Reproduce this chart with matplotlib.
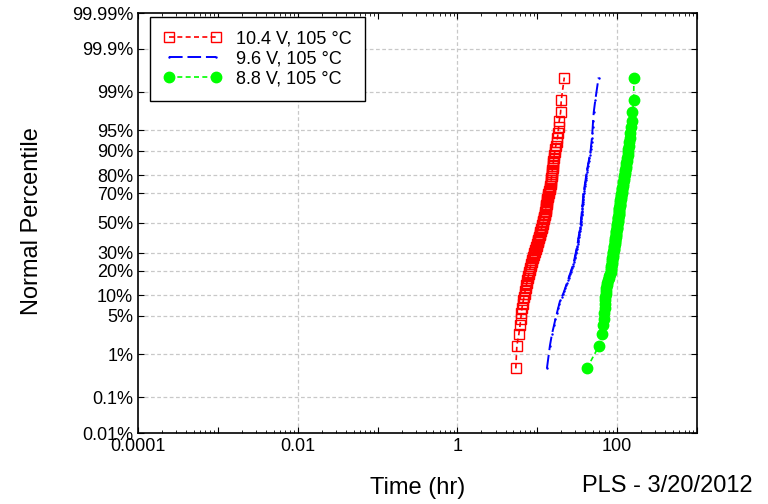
import math
import numpy as np
import matplotlib
matplotlib.use('Agg')
import matplotlib.pyplot as plt
from matplotlib.ticker import NullFormatter, LogLocator

plt.rcParams['font.family'] = ['Liberation Sans', 'DejaVu Sans']
plt.rcParams['axes.grid'] = False

# failure times (hr), sorted
t_104 = [5.38, 5.55, 5.89, 6.08, 6.21, 6.32, 6.41, 6.55, 6.68, 6.81,
         6.93, 7.05, 7.17, 7.29, 7.41, 7.52, 7.62, 7.73, 7.83, 7.93,
         8.04, 8.13, 8.26, 8.39, 8.51, 8.65, 8.77, 8.91, 9.04, 9.17,
         9.29, 9.42, 9.55, 9.68, 9.80, 9.93, 10.07, 10.19, 10.33, 10.45,
         10.59, 10.72, 10.84, 10.97, 11.09, 11.19, 11.32, 11.43, 11.56, 11.67,
         11.80, 11.91, 12.02, 12.16, 12.27, 12.39, 12.53, 12.62, 12.71, 12.76,
         12.85, 12.91, 13.00, 13.06, 13.15, 13.21, 13.34, 13.49, 13.65, 13.80,
         13.96, 14.13, 14.32, 14.49, 14.62, 14.72, 14.79, 14.89, 15.00, 15.10,
         15.21, 15.31, 15.42, 15.56, 15.67, 15.81, 15.96, 16.14, 16.29, 16.52,
         16.75, 17.06, 17.46, 17.91, 18.20, 18.49, 18.84, 19.59, 19.95, 21.78]

t_96 = [13.2, 14.4, 15.3, 16.2, 16.9, 17.6, 18.2, 18.8, 19.3, 20.2,
        21.1, 21.8, 22.4, 23.0, 23.6, 24.2, 24.7, 25.2, 25.8, 26.3,
        26.8, 27.3, 27.8, 28.3, 28.7, 29.0, 29.3, 29.6, 29.9, 30.2,
        30.5, 30.8, 31.1, 31.4, 31.6, 31.9, 32.1, 32.4, 32.6, 32.8,
        33.0, 33.2, 33.5, 33.7, 34.0, 34.2, 34.4, 34.7, 34.8, 34.9,
        35.1, 35.2, 35.4, 35.5, 35.6, 35.8, 35.9, 36.1, 36.2, 36.4,
        36.5, 36.6, 36.8, 37.0, 37.1, 37.2, 37.4, 37.6, 37.7, 37.9,
        38.1, 38.4, 38.6, 38.9, 39.2, 39.5, 39.8, 40.2, 40.5, 40.8,
        41.2, 41.6, 42.0, 42.5, 43.0, 43.5, 44.2, 44.8, 45.6, 46.2,
        46.8, 47.2, 47.8, 48.4, 48.9, 49.4, 50.0, 50.9, 53.2, 58.5]

t_88 = [41.7, 59.6, 64.1, 66.2, 67.8, 69.2, 69.7, 70.2, 70.6, 71.1,
        71.8, 72.6, 73.4, 74.1, 75.0, 76.7, 78.5, 80.2, 82.0, 82.8,
        83.5, 84.1, 84.7, 85.3, 85.9, 86.5, 87.3, 87.9, 88.5, 89.1,
        89.7, 90.4, 90.8, 91.4, 92.0, 92.7, 93.3, 93.8, 94.4, 95.1,
        95.7, 96.2, 96.8, 97.5, 98.0, 98.6, 99.3, 99.8, 100.3, 100.8,
        101.3, 101.9, 102.4, 102.9, 103.5, 104.0, 104.5, 105.0, 105.5, 106.0,
        106.6, 107.1, 107.7, 108.3, 108.9, 109.4, 110.2, 111.2, 112.0, 112.8,
        113.7, 114.6, 115.6, 116.4, 117.4, 118.5, 119.4, 120.5, 121.6, 122.7,
        124.2, 125.3, 126.8, 128.0, 129.4, 130.9, 132.7, 134.0, 135.5, 137.1,
        138.7, 140.6, 142.6, 144.5, 146.6, 148.9, 152.8, 155.6, 161.0, 162.0]

labels = ['10.4 V, 105 \u00b0C', '9.6 V, 105 \u00b0C', '8.8 V, 105 \u00b0C']
pct_ticks = [0.01, 0.1, 1, 5, 10, 20, 30, 50, 70, 80, 90, 95, 99, 99.9, 99.99]
pct_labels = ['0.01%', '0.1%', '1%', '5%', '10%', '20%', '30%', '50%',
              '70%', '80%', '90%', '95%', '99%', '99.9%', '99.99%']
x_ticks = [1e-4, 1e-2, 1, 100]
x_labels = ['0.0001', '0.01', '1', '100']


def norm_ppf(p):
    # Acklam's rational approximation of the inverse normal cdf
    a = [-3.969683028665376e+01, 2.209460984245205e+02, -2.759285104469687e+02,
         1.383577518672690e+02, -3.066479806614716e+01, 2.506628277459239e+00]
    b = [-5.447609879822406e+01, 1.615858368580409e+02, -1.556989798598866e+02,
         6.680131188771972e+01, -1.328068155288572e+01]
    c = [-7.784894002430293e-03, -3.223964580411365e-01, -2.400758277161838e+00,
         -2.549732539343734e+00, 4.374664141464968e+00, 2.938163982698783e+00]
    d = [7.784695709041462e-03, 3.224671290700398e-01, 2.445134137142996e+00,
         3.754408661907416e+00]
    plow = 0.02425
    if p < plow:
        q = math.sqrt(-2 * math.log(p))
        return ((((((c[0]*q+c[1])*q+c[2])*q+c[3])*q+c[4])*q+c[5]) /
                ((((d[0]*q+d[1])*q+d[2])*q+d[3])*q+1))
    if p > 1 - plow:
        return -norm_ppf(1 - p)
    q = p - 0.5
    r = q * q
    return ((((((a[0]*r+a[1])*r+a[2])*r+a[3])*r+a[4])*r+a[5])*q /
            (((((b[0]*r+b[1])*r+b[2])*r+b[3])*r+b[4])*r+1))


def plot_pos(t):
    n = len(t)
    return [norm_ppf((i + 0.5) / n) for i in range(n)]


fig = plt.figure(figsize=(7.68, 5.04), dpi=100)
ax = fig.add_axes([138/768, 1 - 433/504, 559/768, 420/504])
ax.grid(False)

ax.plot(t_104, plot_pos(t_104), color='#ff0000', ls=(0, (3, 2)), lw=1.2,
        marker='s', ms=7, mfc='none', mec='#ff0000', mew=1.0, label=labels[0])
ax.plot(t_96, plot_pos(t_96), color='#0000ff', ls=(0, (7, 2.5)), lw=1.4,
        marker='.', ms=1.5, label=labels[1])
ax.plot(t_88, plot_pos(t_88), color='#00ff00', ls=(0, (3, 2)), lw=1.2,
        marker='o', ms=7.5, mec='#00ff00', label=labels[2])

ax.set_xscale('log')
ax.set_xlim(1e-4, 1e3)
zt = [norm_ppf(p / 100) for p in pct_ticks]
ax.set_ylim(zt[0], zt[-1])
ax.set_yticks(zt)
ax.set_yticklabels(pct_labels)
ax.xaxis.set_major_locator(LogLocator(base=10, numticks=20))
ax.xaxis.set_minor_locator(LogLocator(base=10, subs=np.arange(2, 10), numticks=20))
ax.xaxis.set_major_formatter(NullFormatter())
ax.xaxis.set_minor_formatter(NullFormatter())
ax.tick_params(which='both', direction='in', top=True, right=True,
               labelsize=13, colors='black')
ax.tick_params(which='major', length=4, width=0.8)
ax.tick_params(which='minor', length=2, width=0.6)

for xt, xl in zip(x_ticks, x_labels):
    ax.text(xt, -0.012, xl, transform=ax.get_xaxis_transform(),
            ha='center', va='top', fontsize=13)
    if xt > x_ticks[0]:
        ax.axvline(xt, color='#c8c8c8', ls=(0, (3, 2)), lw=0.9, zorder=0)
for z in zt[1:-1]:
    ax.axhline(z, color='#c8c8c8', ls=(0, (3, 2)), lw=0.9, zorder=0)

for s in ax.spines.values():
    s.set_linewidth(1.2)

fig.text(418/768, 1 - 488/504, 'Time (hr)', ha='center', va='center', fontsize=17)
fig.text(582/768, 1 - 486/504, 'PLS - 3/20/2012', ha='left', va='center', fontsize=17)
fig.text(32/768, 1 - 221/504, 'Normal Percentile', ha='center', va='center',
         rotation=90, fontsize=17)

leg = ax.legend(loc='upper left', bbox_to_anchor=(0.0215, 0.99), borderaxespad=0,
                fontsize=13, handlelength=3.2, handletextpad=0.8, labelspacing=0.15,
                numpoints=2, fancybox=False, framealpha=1, edgecolor='black',
                borderpad=0.75)
leg.get_frame().set_linewidth(1.0)

fig.savefig('out.png', dpi=100)
